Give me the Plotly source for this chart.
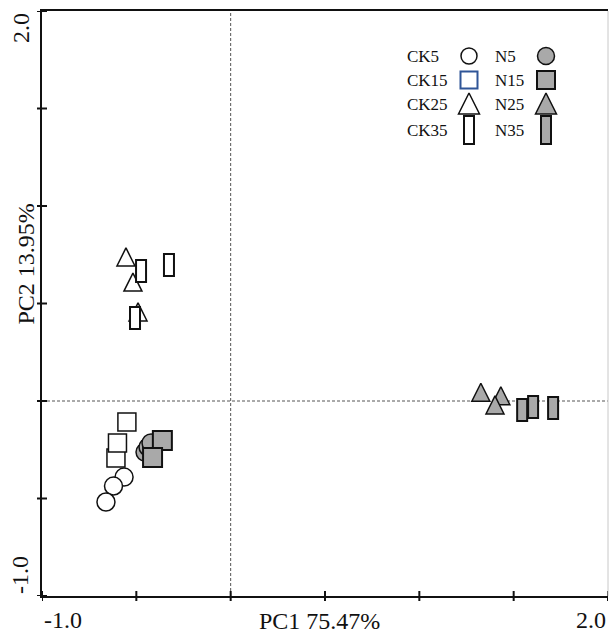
import plotly.graph_objects as go

# PCA scores (PC1, PC2) for each treatment group
ck5_x = [-0.565, -0.621, -0.661]
ck5_y = [-0.390, -0.436, -0.518]
ck15_x = [-0.550, -0.608, -0.600]
ck15_y = [-0.108, -0.292, -0.215]
ck25_x = [-0.555, -0.518, -0.491]
ck25_y = [0.785, 0.656, 0.503]
ck35_x = [-0.475, -0.327, -0.507]
ck35_y = [0.667, 0.697, 0.426]

n5_x = [-0.454, -0.438, -0.422]
n5_y = [-0.262, -0.236, -0.215]
n15_x = [-0.362, -0.414]
n15_y = [-0.203, -0.290]
n25_x = [1.326, 1.432, 1.401]
n25_y = [0.091, 0.073, 0.026]
n35_x = [1.545, 1.603, 1.709]
n35_y = [-0.046, -0.031, -0.036]

axis_ticks = [-1.0, -0.5, 0.0, 0.5, 1.0, 1.5, 2.0]
x_title = "PC1 75.47%"
y_title = "PC2 13.95%"

legend_ck = ["CK5", "CK15", "CK25", "CK35"]
legend_n = ["N5", "N15", "N25", "N35"]

FONT = "Liberation Serif, Times New Roman, serif"
GREY = "#a9a9a9"
BLACK = "#111111"

fig = go.Figure()


def pts(x, y, symbol, size, fill, lw=1.5, line_color=BLACK, xa="x", ya="y"):
    fig.add_trace(go.Scatter(
        x=x, y=y, mode="markers", xaxis=xa, yaxis=ya, showlegend=False,
        hoverinfo="skip",
        marker=dict(symbol=symbol, size=size, color=fill,
                    line=dict(color=line_color, width=lw)),
    ))


pts(ck5_x, ck5_y, "circle", 18, "white")
pts(ck15_x, ck15_y, "square", 18, "white")
pts(ck25_x, ck25_y, "arrow-up", 18, "white")
pts(n5_x, n5_y, "circle", 18, GREY)
pts(n15_x, n15_y, "square", 19, GREY, lw=2)
pts(n25_x, n25_y, "arrow-up", 18, GREY)

shapes = []

# tall rectangles for the 35 cm layers, anchored at their scores
for xs, ys, fill in [(ck35_x, ck35_y, "white"), (n35_x, n35_y, GREY)]:
    for xv, yv in zip(xs, ys):
        shapes.append(dict(
            type="rect", xref="x", yref="y",
            xsizemode="pixel", ysizemode="pixel", xanchor=xv, yanchor=yv,
            x0=-5, x1=5, y0=-11, y1=11,
            fillcolor=fill, line=dict(color=BLACK, width=2), layer="above",
        ))

# dotted reference lines through the origin
shapes.append(dict(type="line", xref="x", yref="paper", x0=0, x1=0, y0=0, y1=1,
                   line=dict(color="#555555", width=1, dash="3px,2px"), layer="below"))
shapes.append(dict(type="line", xref="paper", yref="y", x0=0, x1=1, y0=0, y1=0,
                   line=dict(color="#555555", width=1, dash="3px,2px"), layer="below"))

# tick marks crossing both axes
for t in axis_ticks:
    shapes.append(dict(type="line", xref="x", yref="paper", x0=t, x1=t,
                       ysizemode="pixel", yanchor=0, y0=-5, y1=5,
                       line=dict(color=BLACK, width=2)))
    shapes.append(dict(type="line", xref="paper", yref="y", y0=t, y1=t,
                       xsizemode="pixel", xanchor=0, x0=-5, x1=5,
                       line=dict(color=BLACK, width=2)))

# light right-hand frame edge
shapes.append(dict(type="line", xref="paper", yref="paper", x0=1, x1=1, y0=0, y1=1,
                   line=dict(color="#c8c8c8", width=1)))

# ---- key (drawn on a pixel-scaled overlay axis pair) ----
row_y = [56, 80, 104, 130]
ck_text_x, ck_sym_x = 405, 469
n_text_x, n_sym_x = 493, 546

pts([ck_sym_x], [row_y[0]], "circle", 16, "white", xa="x2", ya="y2")
pts([ck_sym_x], [row_y[1]], "square", 17, "white", lw=2, line_color="#2f5597", xa="x2", ya="y2")
pts([ck_sym_x], [row_y[2] - 11], "arrow-up", 21, "white", xa="x2", ya="y2")
pts([n_sym_x], [row_y[0]], "circle", 17, GREY, xa="x2", ya="y2")
pts([n_sym_x], [row_y[1]], "square", 18, GREY, lw=2, xa="x2", ya="y2")
pts([n_sym_x], [row_y[2] - 11], "arrow-up", 21, GREY, xa="x2", ya="y2")
for sx, fill in [(ck_sym_x, "white"), (n_sym_x, GREY)]:
    shapes.append(dict(type="rect", xref="x2", yref="y2",
                       x0=sx - 5, x1=sx + 5, y0=row_y[3] - 14, y1=row_y[3] + 14,
                       fillcolor=fill, line=dict(color=BLACK, width=2), layer="above"))

annotations = []
for i, (ck, n) in enumerate(zip(legend_ck, legend_n)):
    annotations.append(dict(xref="x2", yref="y2", x=ck_text_x, y=row_y[i], text=ck,
                            showarrow=False, xanchor="left", yanchor="middle",
                            font=dict(family=FONT, size=17, color=BLACK)))
    annotations.append(dict(xref="x2", yref="y2", x=n_text_x, y=row_y[i], text=n,
                            showarrow=False, xanchor="left", yanchor="middle",
                            font=dict(family=FONT, size=17, color=BLACK)))

big = dict(family=FONT, size=24, color=BLACK)
# end tick labels and axis titles
annotations += [
    dict(xref="x", yref="paper", x=axis_ticks[0], y=0, yshift=-24, text="-1.0",
         showarrow=False, xanchor="left", yanchor="middle", font=big),
    dict(xref="x", yref="paper", x=axis_ticks[-1], y=0, yshift=-24, text="2.0",
         showarrow=False, xanchor="right", yanchor="middle", font=big),
    dict(xref="x", yref="paper", x=0.47, y=0, yshift=-25, text=x_title,
         showarrow=False, xanchor="center", yanchor="middle", font=big),
    dict(xref="paper", yref="y", x=0, xshift=-21, y=axis_ticks[-1], text="2.0",
         showarrow=False, xanchor="center", yanchor="top", textangle=-90, font=big),
    dict(xref="paper", yref="y", x=0, xshift=-22, y=axis_ticks[0], text="-1.0",
         showarrow=False, xanchor="center", yanchor="bottom", textangle=-90, font=big),
    dict(xref="paper", yref="y", x=0, xshift=-17, y=0.70, text=y_title,
         showarrow=False, xanchor="center", yanchor="middle", textangle=-90, font=big),
]

axis_common = dict(range=[-1, 2], showgrid=False, zeroline=False, showticklabels=False,
                   ticks="", showline=True, linecolor=BLACK, linewidth=2, fixedrange=True)

fig.update_layout(
    width=609, height=633,
    margin=dict(l=42, r=1, t=11, b=37),
    paper_bgcolor="white", plot_bgcolor="white",
    xaxis=dict(**axis_common, mirror=True),
    yaxis=dict(**axis_common, mirror=False),
    xaxis2=dict(range=[42, 608], overlaying="x", visible=False, fixedrange=True),
    yaxis2=dict(range=[596, 11], overlaying="y", visible=False, fixedrange=True),
    shapes=shapes,
    annotations=annotations,
    showlegend=False,
)

fig.write_html("out.html")
